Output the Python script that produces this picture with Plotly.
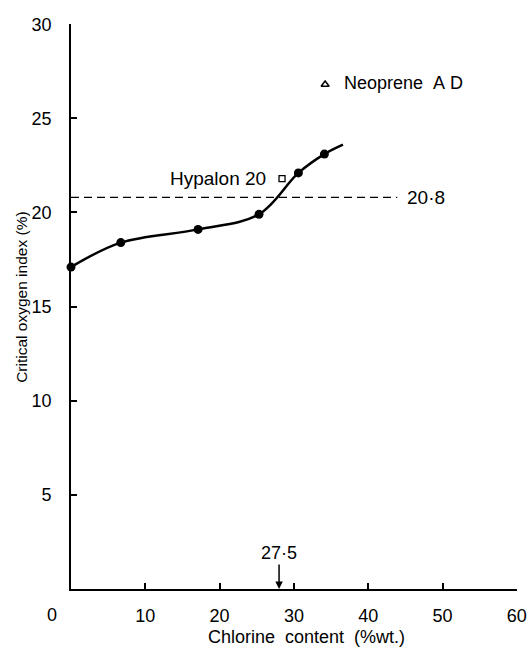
import plotly.graph_objects as go

# ---- data ----
chlorine = [0, 6.7, 17.1, 25.3, 30.6, 34.1]
oxygen_index = [17.1, 18.4, 19.1, 19.9, 22.1, 23.1]
curve_end_x = [36.6]
curve_end_y = [23.6]

hypalon_x = [28.4]
hypalon_y = [21.8]
neoprene_x = [34.2]
neoprene_y = [26.8]

air_level = 20.8
air_line_x = [0, 43.9]
threshold_x = 28.0
threshold_label = "27·5"

x_ticks = [10, 20, 30, 40, 50, 60]
y_ticks = [5, 10, 15, 20, 25, 30]
x_range = [0, 60.02]
y_range = [0, 30.01]

FONT = "Liberation Sans, Arial, sans-serif"

fig = go.Figure()

# fitted curve
fig.add_trace(go.Scatter(
    x=chlorine + curve_end_x, y=oxygen_index + curve_end_y,
    mode="lines", line=dict(color="black", width=2.5, shape="spline", smoothing=1.0),
    cliponaxis=False, hoverinfo="skip"))
# measured points
fig.add_trace(go.Scatter(
    x=chlorine, y=oxygen_index, mode="markers",
    marker=dict(color="black", size=9, symbol="circle"), cliponaxis=False))
# 20.8 dashed line
fig.add_trace(go.Scatter(
    x=air_line_x, y=[air_level, air_level], mode="lines",
    line=dict(color="black", width=1.4, dash="8px,5px"), cliponaxis=False))
# Hypalon 20 (open square)
fig.add_trace(go.Scatter(
    x=hypalon_x, y=hypalon_y, mode="markers",
    marker=dict(symbol="square-open", size=6, color="black", line=dict(width=1.3))))
# Neoprene AD (open triangle)
fig.add_trace(go.Scatter(
    x=neoprene_x, y=neoprene_y, mode="markers",
    marker=dict(symbol="triangle-up-open", size=7, color="black", line=dict(width=1.5))))

annotations = [
    dict(x=hypalon_x[0] - 1.9, y=hypalon_y[0], text="Hypalon 20", showarrow=False,
         xanchor="right", yanchor="middle", font=dict(size=19)),
    dict(x=neoprene_x[0] + 2.3, y=neoprene_y[0] + 0.1, text="Neoprene\u00a0\u00a0A\u00a0D",
         showarrow=False, xanchor="left", yanchor="middle", font=dict(size=18)),
    dict(x=air_line_x[1] + 1.1, y=air_level, text="20·8", showarrow=False,
         xanchor="left", yanchor="middle", font=dict(size=19)),
    dict(x=threshold_x, y=0, text=threshold_label, showarrow=True, ax=0, ay=-36,
         arrowhead=2, arrowsize=1, arrowwidth=1.5, arrowcolor="black", standoff=0,
         font=dict(size=18)),
    dict(x=-2.6 / x_range[1], y=0, xref="paper", yref="paper", text="0", showarrow=False,
         xanchor="center", yanchor="top", yshift=-14, font=dict(size=18)),
    dict(x=0.529, y=-0.085, xref="paper", yref="paper",
         text="Chlorine\u00a0\u00a0content\u00a0\u00a0(%wt.)", showarrow=False,
         xanchor="center", yanchor="middle", font=dict(size=18)),
    dict(x=-0.11, y=0.517, xref="paper", yref="paper",
         text="Critical oxygen index (%)", showarrow=False,
         textangle=-90, xanchor="center", yanchor="middle", font=dict(size=15.5)),
]

fig.update_layout(
    template="none",
    width=528, height=648,
    margin=dict(l=71, r=11, t=24, b=59, autoexpand=False),
    paper_bgcolor="white", plot_bgcolor="white",
    showlegend=False,
    font=dict(family=FONT, color="black", size=18),
    annotations=annotations,
    xaxis=dict(range=x_range, tickvals=x_ticks, ticks="inside", ticklen=6, tickwidth=1.5,
               tickcolor="black", showline=True, linecolor="black", linewidth=1.8,
               showgrid=False, zeroline=False, ticklabelstandoff=9, automargin=False),
    yaxis=dict(range=y_range, tickvals=y_ticks, ticks="inside", ticklen=6, tickwidth=1.5,
               tickcolor="black", showline=True, linecolor="black", linewidth=1.8,
               showgrid=False, zeroline=False, ticklabelstandoff=14, automargin=False),
)

fig.write_html("out.html")
